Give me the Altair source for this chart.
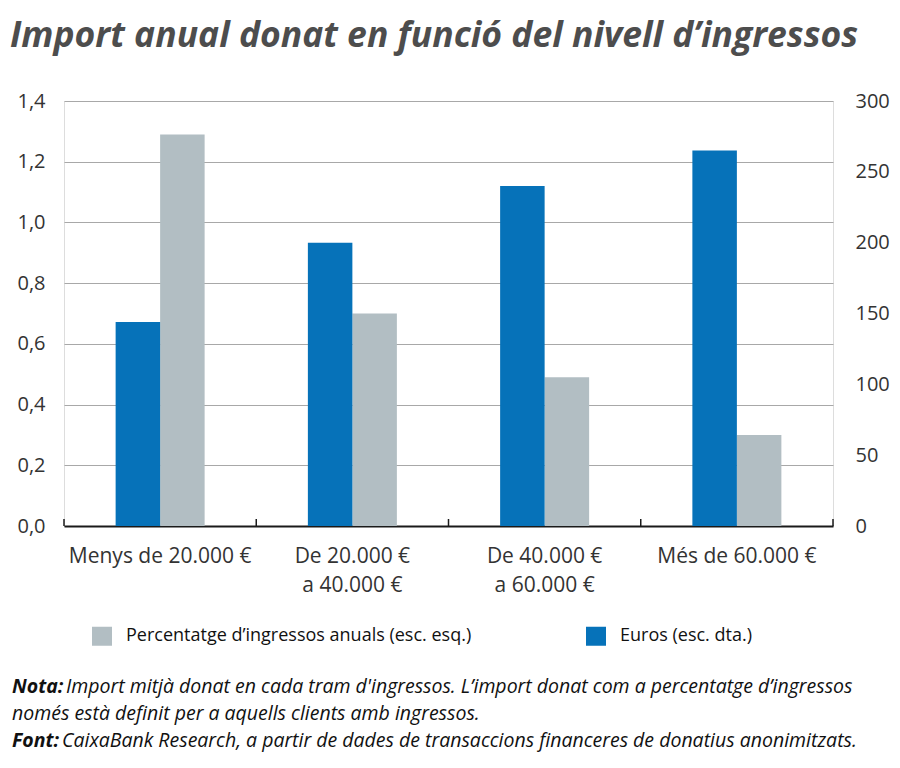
import altair as alt
import pandas as pd

categories = ["Menys de 20.000 €", "De 20.000 €\na 40.000 €", "De 40.000 €\na 60.000 €", "Més de 60.000 €"]
pct_values = [1.29, 0.70, 0.49, 0.30]
eur_values = [144, 200, 240, 265]
pct_label = "Percentatge d’ingressos anuals (esc. esq.)"
eur_label = "Euros (esc. dta.)"
left_ticks = [0, 0.2, 0.4, 0.6, 0.8, 1.0, 1.2, 1.4]
right_ticks = [0, 50, 100, 150, 200, 250, 300]
title_text = "Import anual donat en funció del nivell d’ingressos"
nota_head = "Nota:"
nota_lines = ["Import mitjà donat en cada tram d'ingressos. L’import donat com a percentatge d’ingressos",
              "només està definit per a aquells clients amb ingressos."]
font_head = "Font:"
font_text = "CaixaBank Research, a partir de dades de transaccions financeres de donatius anonimitzats."

BLUE = "#0672b9"
GRAY = "#b2bec3"
TXT = "#333333"
NARROW = "Open Sans, sans-serif"
AXF = "Open Sans"

W, H = 769, 425
BW = 44.5

pct_df = pd.DataFrame({"cat": categories, "v": pct_values, "serie": pct_label})
eur_df = pd.DataFrame({"cat": categories, "v": eur_values, "serie": eur_label})
cat_df = pd.DataFrame({"cat": categories})

xscale = alt.Scale(domain=categories, paddingInner=0, paddingOuter=0)
color_scale = alt.Scale(domain=[pct_label, eur_label], range=[GRAY, BLUE])

xaxis = alt.Axis(title=None, labelAngle=0, ticks=False, grid=False, domain=True,
                 domainColor="#1a1a1a", domainWidth=2, labelFont=AXF, labelFontSize=21,
                 labelColor=TXT, labelPadding=19, labelLineHeight=29, labelLimit=0,
                 labelOverlap=False, labelExpr="split(datum.label, '\\n')")

legend = alt.Legend(orient="none", legendX=28, legendY=525, direction="horizontal", title=None,
                    symbolType="M-1,-0.95H1V0.95H-1Z", symbolSize=400, symbolStrokeWidth=0,
                    symbolOpacity=1, labelFont=AXF, labelFontSize=18, labelColor="#111111",
                    labelOffset=14, columnPadding=114, padding=0, labelLimit=0)

pct_bars = alt.Chart(pct_df).mark_bar(color=GRAY, width=BW, xOffset=BW / 2).encode(
    x=alt.X("cat:N", scale=xscale, axis=xaxis, sort=categories),
    y=alt.Y("v:Q", scale=alt.Scale(domain=[0, 1.4], nice=False),
            axis=alt.Axis(title=None, values=left_ticks, grid=True, gridColor="#a8a8a8", gridWidth=1,
                          domain=False, ticks=False, labelFont=AXF, labelFontSize=20, labelColor=TXT,
                          labelPadding=19,
                          labelExpr="replace(format(datum.value, '.1f'), '.', ',')")),
    color=alt.Color("serie:N", scale=color_scale, legend=legend),
)

eur_bars = alt.Chart(eur_df).mark_bar(color=BLUE, width=BW, xOffset=-BW / 2).encode(
    x=alt.X("cat:N", scale=xscale, axis=xaxis, sort=categories),
    y=alt.Y("v:Q", scale=alt.Scale(domain=[0, 300], nice=False),
            axis=alt.Axis(title=None, orient="right", values=right_ticks, grid=False,
                          domain=False, ticks=False, labelFont=AXF, labelFontSize=20, labelColor=TXT,
                          labelPadding=22)),
    color=alt.Color("serie:N", scale=color_scale, legend=legend),
)

ticks_start = alt.Chart(cat_df).mark_rule(color="#1a1a1a", strokeWidth=1.5).encode(
    x=alt.X("cat:N", scale=xscale, bandPosition=0, sort=categories),
    y=alt.value(H - 7), y2=alt.value(H),
)
ticks_end = alt.Chart(cat_df.tail(1)).mark_rule(color="#1a1a1a", strokeWidth=1.5).encode(
    x=alt.X("cat:N", scale=xscale, bandPosition=1, sort=categories),
    y=alt.value(H - 7), y2=alt.value(H),
)


def txt(s, x, y, size, weight="normal", style="italic", color="#111111"):
    return alt.Chart(pd.DataFrame({"t": [s]})).mark_text(
        align="left", baseline="alphabetic", font=NARROW, fontSize=size,
        fontWeight=weight, fontStyle=style, color=color,
    ).encode(x=alt.value(x), y=alt.value(y), text="t:N")


title = txt(title_text, -54, -54, 35.5, weight="bold", color="#4d4d4d")
n1h = txt(nota_head, -52, 592, 19.5, weight="bold")
n1 = txt(nota_lines[0], 2, 592, 19.5)
n2 = txt(nota_lines[1], -52, 619, 19.5)
f1h = txt(font_head, -52, 646, 19.5, weight="bold")
f1 = txt(font_text, -2, 646, 19.5)

chart = alt.layer(pct_bars, eur_bars, ticks_start, ticks_end, title, n1h, n1, n2, f1h, f1).resolve_scale(
    y="independent"
).properties(
    width=W, height=H,
    padding={"left": 56, "top": 93, "right": 59, "bottom": 228},
    autosize=alt.AutoSizeParams(type="none"),
).configure_view(stroke=None).configure(background="white")

chart.save("out.html", embed_options={"renderer": "svg", "actions": False})
